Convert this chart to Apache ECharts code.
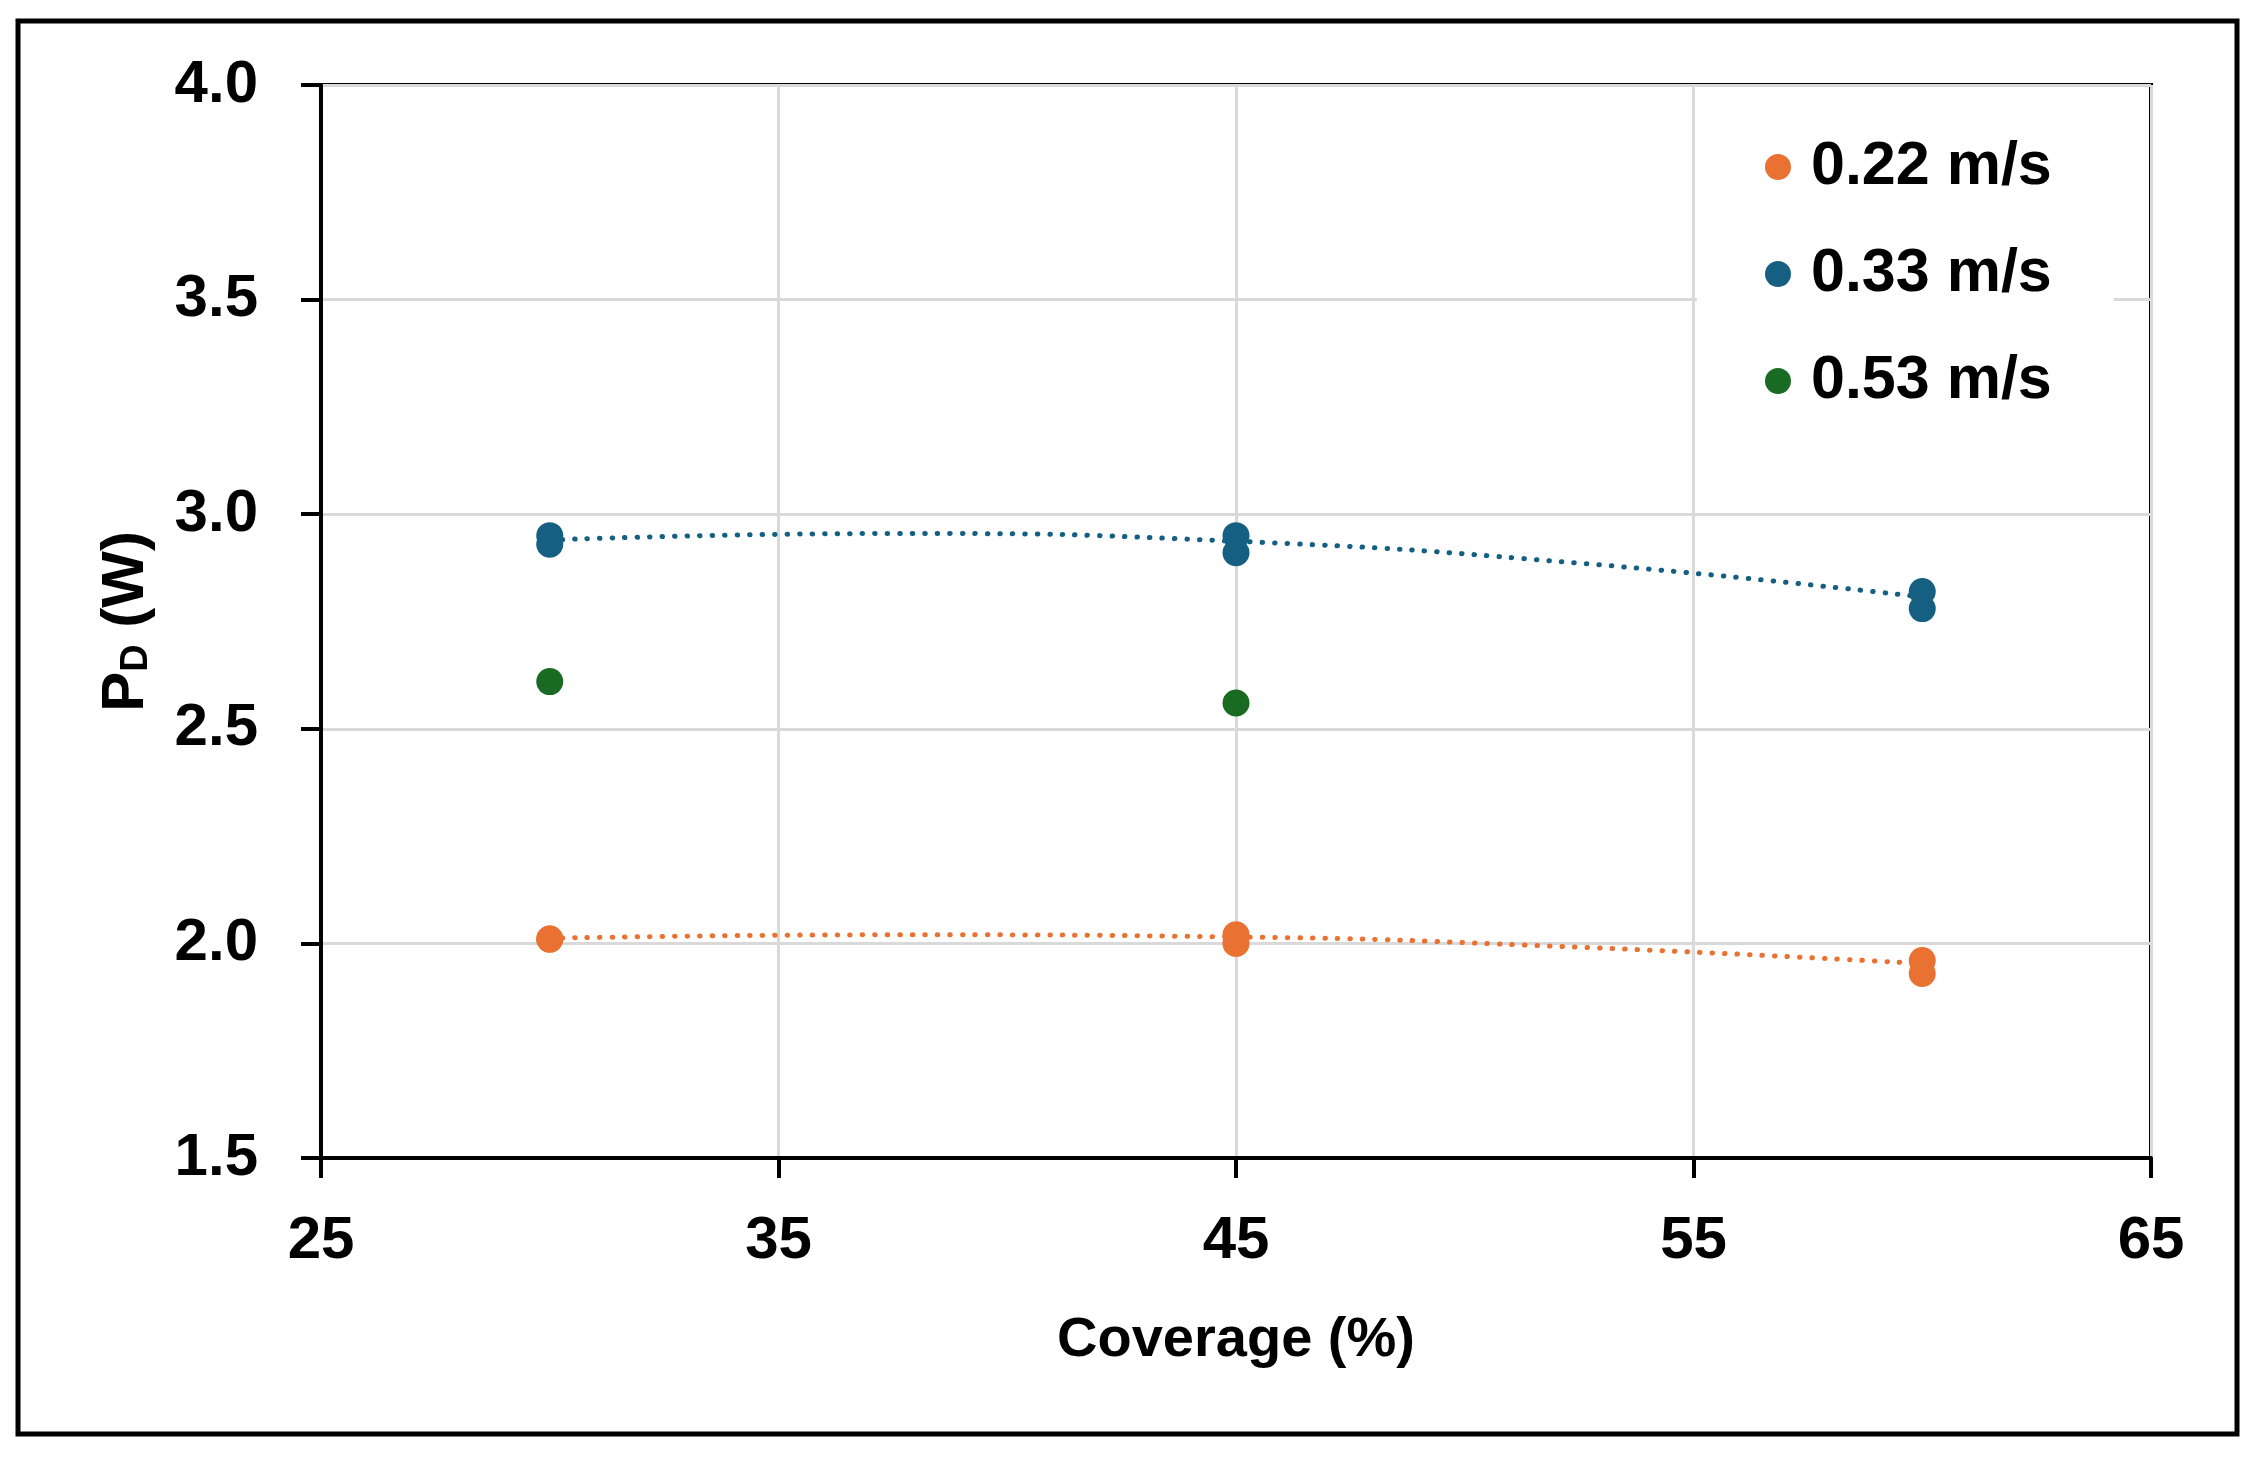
<!DOCTYPE html>
<html>
<head>
<meta charset="utf-8">
<script src="https://cdn.jsdelivr.net/npm/echarts@6/dist/echarts.min.js"></script>
<style>
  html, body { margin: 0; padding: 0; background: #fff; }
  #chart { width: 2259px; height: 1458px; }
</style>
</head>
<body>
<div id="chart"></div>
<script>
// ---- data ----
const seriesNames = ['0.22 m/s', '0.33 m/s', '0.53 m/s'];
const coverage022 = [30, 30, 45, 45, 60, 60];
const power022    = [2.01, 2.01, 2.02, 2.00, 1.96, 1.93];
const coverage033 = [30, 30, 45, 45, 60, 60];
const power033    = [2.95, 2.93, 2.95, 2.91, 2.82, 2.78];
const coverage053 = [30, 45];
const power053    = [2.61, 2.56];
// dotted trendlines, values
const trendCoverage = [30, 37.5, 45, 52.5, 60];
const trend022      = [2.012, 2.020, 2.015, 1.991, 1.953];
const trend033      = [2.940, 2.955, 2.937, 2.886, 2.807];
const xTicks = [25, 35, 45, 55, 65];
const yTicks = [1.5, 2.0, 2.5, 3.0, 3.5, 4.0];

const colors = ['#E97132', '#156082', '#196B24'];
const FONT = '"Liberation Sans", Arial, sans-serif';

function pairs(xs, ys) { return xs.map((x, i) => [x, ys[i]]); }

const chart = echarts.init(document.getElementById('chart'), null, { renderer: 'canvas' });
chart.setOption({
  animation: false,
  backgroundColor: '#fff',
  graphic: [{
    type: 'rect',
    shape: { x: 18, y: 21, width: 2219, height: 1413 },
    style: { fill: 'none', stroke: '#000', lineWidth: 5 },
    z: 100
  }],
  grid: {
    left: 321, right: 108, top: 85, bottom: 300,
    show: true, borderColor: '#000', borderWidth: 4, backgroundColor: 'transparent'
  },
  legend: {
    orient: 'vertical',
    left: 1697, top: 115,
    padding: [20, 62, 20, 68],
    backgroundColor: '#fff',
    data: seriesNames,
    icon: 'circle',
    itemWidth: 26, itemHeight: 26,
    itemGap: 43,
    textStyle: { fontFamily: FONT, fontSize: 61, fontWeight: 'bold', color: '#000', lineHeight: 64, padding: [0, 0, 0, 15] }
  },
  xAxis: {
    type: 'value',
    min: xTicks[0], max: xTicks[xTicks.length - 1], interval: 10,
    name: 'Coverage (%)',
    nameLocation: 'middle', nameGap: 155,
    nameTextStyle: { fontFamily: FONT, fontSize: 56, fontWeight: 'bold', color: '#000' },
    axisLine: { show: true, lineStyle: { color: '#000', width: 4 } },
    axisTick: { show: true, length: 20, lineStyle: { color: '#000', width: 4 } },
    axisLabel: { margin: 53, fontFamily: FONT, fontSize: 60, fontWeight: 'bold', color: '#000' },
    splitLine: { show: true, lineStyle: { color: '#D9D9D9', width: 3 } }
  },
  yAxis: {
    type: 'value',
    min: yTicks[0], max: yTicks[yTicks.length - 1], interval: 0.5,
    name: 'P{sub|D} (W)',
    nameLocation: 'middle', nameGap: 165, nameRotate: 90,
    nameTextStyle: {
      fontFamily: FONT, fontSize: 60, fontWeight: 'bold', color: '#000',
      rich: { sub: { fontFamily: FONT, fontSize: 38, fontWeight: 'bold', color: '#000', verticalAlign: 'bottom', padding: [22, 0, 0, 0] } }
    },
    axisLine: { show: true, lineStyle: { color: '#000', width: 4 } },
    axisTick: { show: true, length: 20, lineStyle: { color: '#000', width: 4 } },
    axisLabel: { margin: 63, fontFamily: FONT, fontSize: 60, fontWeight: 'bold', color: '#000',
      formatter: v => v.toFixed(1) },
    splitLine: { show: true, lineStyle: { color: '#D9D9D9', width: 3 } }
  },
  series: [
    {
      name: 'trend 0.22', type: 'line', data: pairs(trendCoverage, trend022),
      smooth: 0.5, showSymbol: false, silent: true, z: 1,
      lineStyle: { color: colors[0], width: 5, type: [0.5, 12], cap: 'round' }
    },
    {
      name: 'trend 0.33', type: 'line', data: pairs(trendCoverage, trend033),
      smooth: 0.5, showSymbol: false, silent: true, z: 1,
      lineStyle: { color: colors[1], width: 5, type: [0.5, 12], cap: 'round' }
    },
    {
      name: seriesNames[0], type: 'scatter', data: pairs(coverage022, power022),
      symbol: 'circle', symbolSize: 27, itemStyle: { color: colors[0], opacity: 1 }, z: 3
    },
    {
      name: seriesNames[1], type: 'scatter', data: pairs(coverage033, power033),
      symbol: 'circle', symbolSize: 27, itemStyle: { color: colors[1], opacity: 1 }, z: 3
    },
    {
      name: seriesNames[2], type: 'scatter', data: pairs(coverage053, power053),
      symbol: 'circle', symbolSize: 27, itemStyle: { color: colors[2], opacity: 1 }, z: 3
    }
  ]
});
</script>
</body>
</html>
